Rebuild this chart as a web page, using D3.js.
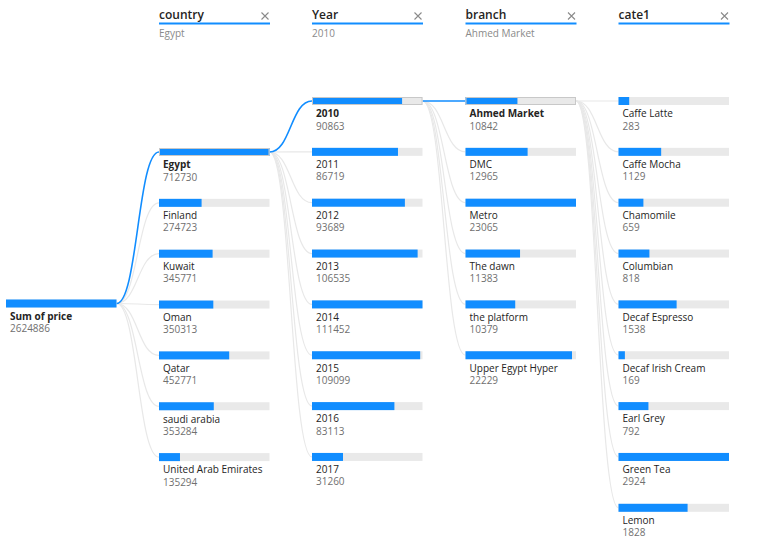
<!DOCTYPE html>
<html><head><meta charset="utf-8">
<script src="https://cdn.jsdelivr.net/npm/d3@7"></script>
<style>
body{margin:0;background:#fff;}
text{font-family:"Segoe UI","Open Sans","Noto Sans",sans-serif;}
</style></head>
<body><svg id="c" width="758" height="554"></svg>
<script>
const rootLabel = "Sum of price";
const rootValue = 2624886;
const levelNames = ["country","Year","branch","cate1"];
const levelSelections = ["Egypt","2010","Ahmed Market",""];
const countries = ["Egypt","Finland","Kuwait","Oman","Qatar","saudi arabia","United Arab Emirates"];
const countryValues = [712730,274723,345771,350313,452771,353284,135294];
const years = ["2010","2011","2012","2013","2014","2015","2016","2017"];
const yearValues = [90863,86719,93689,106535,111452,109099,83113,31260];
const branches = ["Ahmed Market","DMC","Metro","The dawn","the platform","Upper Egypt Hyper"];
const branchValues = [10842,12965,23065,11383,10379,22229];
const cates = ["Caffe Latte","Caffe Mocha","Chamomile","Columbian","Decaf Espresso","Decaf Irish Cream","Earl Grey","Green Tea","Lemon"];
const cateValues = [283,1129,659,818,1538,169,792,2924,1828];

const svg = d3.select("#c");
const BLUE = "#118DFF", BG = "#E9E9E9";
const barW = 110.5, barH = 8, step = 50.85;
const colX = [6, 159, 312, 465.5, 618.5];
const colStart = [299.5, 148, 97, 97, 97];

const levels = [
  {labels:[rootLabel], values:[rootValue], sel:0},
  {labels:countries, values:countryValues, sel:countries.indexOf(levelSelections[0])},
  {labels:years, values:yearValues, sel:years.indexOf(levelSelections[1])},
  {labels:branches, values:branchValues, sel:branches.indexOf(levelSelections[2])},
  {labels:cates, values:cateValues, sel:-1}
];

levels.forEach((lv,i)=>{
  lv.x = d3.scaleLinear().domain([0,d3.max(lv.values)]).range([0,barW]);
  lv.y = d3.scaleLinear().domain([0,1]).range([colStart[i], colStart[i]+step]);
});

// links
const link = d3.linkHorizontal();
const gl = svg.append("g");
for(let i=0;i<levels.length-1;i++){
  const p = levels[i], c = levels[i+1];
  const sx = colX[i]+barW, sy = p.y(p.sel)+barH/2;
  const data = c.labels.map((d,j)=>({j, source:[sx,sy], target:[colX[i+1], c.y(j)+barH/2]}));
  data.sort((a,b)=>(a.j===c.sel)-(b.j===c.sel));
  gl.selectAll(null).data(data).enter().append("path")
    .attr("d", d=>link(d))
    .attr("fill","none")
    .attr("stroke", d=>d.j===c.sel?BLUE:"#e8e8e8")
    .attr("stroke-width", d=>d.j===c.sel?1.6:1.2);
}

// nodes
levels.forEach((lv,i)=>{
  const g = svg.append("g");
  lv.labels.forEach((lab,j)=>{
    const y = lv.y(j), x0 = colX[i];
    const selected = (j===lv.sel);
    g.append("rect").attr("x",x0).attr("y",y).attr("width",barW).attr("height",barH).attr("fill",BG);
    g.append("rect").attr("x",x0).attr("y",y).attr("width",lv.x(lv.values[j])).attr("height",barH).attr("fill",BLUE);
    if(selected && i>0) g.append("rect").attr("x",x0+0.5).attr("y",y+0.5).attr("width",barW-1).attr("height",barH-1)
      .attr("fill","none").attr("stroke","#c8c8c8").attr("stroke-width",1);
    g.append("text").attr("x",x0+4).attr("y",y+20.3).text(lab)
      .attr("font-size","10px").attr("fill","#252423").attr("font-weight",selected?700:400);
    g.append("text").attr("x",x0+4).attr("y",y+32.5).text(d3.format("d")(lv.values[j]))
      .attr("font-size","10px").attr("fill","#707070");
  });
});

// headers
levelNames.forEach((n,i)=>{
  const x0 = colX[i+1];
  const g = svg.append("g");
  g.append("text").attr("x",x0).attr("y",18.5).text(n).attr("font-size","12px").attr("font-weight",600).attr("fill","#252423");
  g.append("line").attr("x1",x0).attr("x2",x0+barW+0.5).attr("y1",23.5).attr("y2",23.5).attr("stroke",BLUE).attr("stroke-width",2);
  const cx = x0+barW-4.5, cy=16;
  g.append("path").attr("d",`M${cx-3.5},${cy-3.5}L${cx+3.5},${cy+3.5}M${cx+3.5},${cy-3.5}L${cx-3.5},${cy+3.5}`)
    .attr("stroke","#8a8a8a").attr("stroke-width",1.1);
  if(levelSelections[i]) g.append("text").attr("x",x0).attr("y",37).text(levelSelections[i]).attr("font-size","10px").attr("fill","#8a8a8a");
});
</script></body></html>
